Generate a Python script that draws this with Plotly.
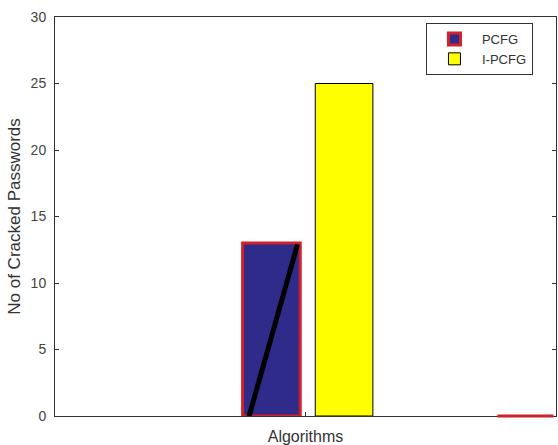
import plotly.graph_objects as go

# Data
algorithms = ["PCFG", "I-PCFG"]
bar_positions = [0.932, 1.077]
cracked = [13, 25]
bar_width = 0.115
fill_colors = ["#2e2b8a", "#ffff00"]
edge_colors = ["#d21f2a", "#000000"]
edge_widths = [3, 1]

# diagonal stroke drawn inside the PCFG bar
stroke_x = [0.886, 0.984]
stroke_y = [-0.2, 12.9]

# zero-height bar outline at the right
zero_bar_x = [1.383, 1.495]
zero_bar_y = [0, 0]

y_ticks = [0, 5, 10, 15, 20, 25, 30]

fig = go.Figure()
for name, xpos, val, fc, ec, ew in zip(algorithms, bar_positions, cracked, fill_colors, edge_colors, edge_widths):
    fig.add_trace(go.Bar(
        x=[xpos], y=[val], width=bar_width, name=name,
        marker=dict(color=fc, line=dict(color=ec, width=ew)),
    ))

fig.add_trace(go.Scatter(
    x=stroke_x, y=stroke_y, mode="lines", showlegend=False,
    line=dict(color="black", width=5), hoverinfo="skip",
))

fig.add_shape(
    type="line", xref="x", yref="paper",
    x0=zero_bar_x[0], x1=zero_bar_x[1], y0=zero_bar_y[0], y1=zero_bar_y[1],
    line=dict(color="#d21f2a", width=3), layer="above",
)

txt = "Liberation Sans, Arial, sans-serif"

fig.update_layout(
    width=558, height=445,
    margin=dict(l=55, r=2, t=17, b=29),
    paper_bgcolor="white", plot_bgcolor="white",
    barmode="overlay",
    font=dict(family=txt, size=14, color="#333333"),
    legend=dict(
        x=0.954, y=0.985, xanchor="right", yanchor="top",
        bgcolor="white", bordercolor="#333333", borderwidth=1,
        font=dict(family=txt, size=13, color="#333333"),
        tracegroupgap=0, itemwidth=45,
    ),
    xaxis=dict(
        range=[0.5, 1.5], tickvals=[1], ticktext=[""],
        ticks="inside", ticklen=4, tickcolor="#333333",
        showline=True, linecolor="#333333", linewidth=1, mirror=True,
        showgrid=False, zeroline=False,
        title=dict(text="Algorithms", font=dict(family=txt, size=16, color="#333333"), standoff=12),
    ),
    yaxis=dict(
        range=[0, 30], tickvals=y_ticks,
        ticks="inside", ticklen=4, tickcolor="#333333",
        showline=True, linecolor="#333333", linewidth=1, mirror="ticks",
        showgrid=False, zeroline=False,
        tickfont=dict(family=txt, size=14, color="#444444"),
        ticklabelstandoff=5,
        title=dict(text="No of Cracked Passwords", font=dict(family=txt, size=17, color="#333333"), standoff=5),
    ),
)

fig.write_html(
    "out.html",
    config={"displayModeBar": False},
    post_script="document.body.style.margin='0';document.body.style.overflow='hidden';",
)
